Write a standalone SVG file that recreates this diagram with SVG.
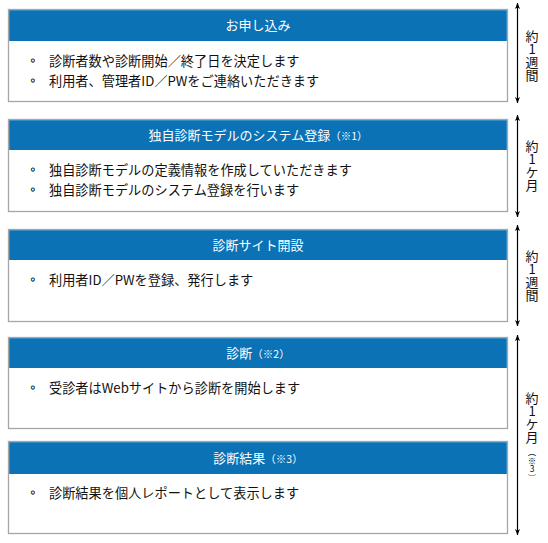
<svg xmlns="http://www.w3.org/2000/svg" width="548" height="543" viewBox="0 0 548 543">
<style>
.box{fill:#ffffff;stroke:#a6a6a6;stroke-width:1.3}
.hdr{fill:#0b72b5}
.ht{font-family:"Noto Sans CJK JP","Noto Sans",sans-serif;font-size:13px;fill:#ffffff;text-anchor:middle}
.sm{font-size:10.5px}
.bt{font-family:"Noto Sans CJK JP","Noto Sans",sans-serif;font-size:13.2px;fill:#111111}
.bl{font-family:"DejaVu Sans",sans-serif;font-size:12px;fill:#111111;stroke:#111111;stroke-width:0.35}
.vt{font-family:"Noto Sans CJK JP","Noto Sans",sans-serif;font-size:13px;fill:#111111;writing-mode:vertical-rl;text-orientation:upright}
.vs{font-family:"Noto Sans CJK JP","Noto Sans",sans-serif;font-size:8.5px;fill:#111111;writing-mode:vertical-rl;text-orientation:upright}
.ar{stroke:#000000;stroke-width:1.2;fill:none;marker-start:url(#ah);marker-end:url(#ah)}
</style>
<defs>
<marker id="ah" viewBox="0 0 10 8" refX="9.5" refY="4" markerWidth="6.5" markerHeight="5" markerUnits="userSpaceOnUse" orient="auto-start-reverse">
<path d="M0,0 L10,4 L0,8 L2.5,4 Z" fill="#000000"/>
</marker>
</defs>
<rect width="548" height="543" fill="#ffffff"/>

<g id="node1">
<rect class="box" x="8.5" y="9.5" width="499" height="92"/>
<rect class="hdr" x="9.2" y="10.2" width="497.6" height="30.8"/>
<text class="ht" x="258" y="30">お申し込み</text>
<text class="bl" x="29.5" y="65">◦</text>
<text class="bt" x="49" y="66">診断者数や診断開始／終了日を決定します</text>
<text class="bl" x="29.5" y="85">◦</text>
<text class="bt" x="49" y="86">利用者、管理者ID／PWをご連絡いただきます</text>
</g>

<g id="node2">
<rect class="box" x="8.5" y="119.5" width="499" height="92"/>
<rect class="hdr" x="9.2" y="120.2" width="497.6" height="29.8"/>
<text class="ht" x="258" y="139.5">独自診断モデルのシステム登録<tspan class="sm">（※1）</tspan></text>
<text class="bl" x="29.5" y="174">◦</text>
<text class="bt" x="49" y="175">独自診断モデルの定義情報を作成していただきます</text>
<text class="bl" x="29.5" y="194">◦</text>
<text class="bt" x="49" y="195">独自診断モデルのシステム登録を行います</text>
</g>

<g id="node3">
<rect class="box" x="8.5" y="229.5" width="499" height="92"/>
<rect class="hdr" x="9.2" y="230.2" width="497.6" height="29.8"/>
<text class="ht" x="258" y="249.5">診断サイト開設</text>
<text class="bl" x="29.5" y="284">◦</text>
<text class="bt" x="49" y="285">利用者ID／PWを登録、発行します</text>
</g>

<g id="node4">
<rect class="box" x="8.5" y="337.5" width="499" height="91"/>
<rect class="hdr" x="9.2" y="338.2" width="497.6" height="29.8"/>
<text class="ht" x="258" y="357.5">診断<tspan class="sm">（※2）</tspan></text>
<text class="bl" x="29.5" y="392">◦</text>
<text class="bt" x="49" y="393">受診者はWebサイトから診断を開始します</text>
</g>

<g id="node5">
<rect class="box" x="8.5" y="441.5" width="499" height="92"/>
<rect class="hdr" x="9.2" y="442.2" width="497.6" height="31.8"/>
<text class="ht" x="258" y="462.5">診断結果<tspan class="sm">（※3）</tspan></text>
<text class="bl" x="29.5" y="497">◦</text>
<text class="bt" x="49" y="498">診断結果を個人レポートとして表示します</text>
</g>

<g id="connectors">
<line class="ar" x1="517.5" y1="3" x2="517.5" y2="103"/>
<line class="ar" x1="517.5" y1="115" x2="517.5" y2="217"/>
<line class="ar" x1="517.5" y1="225" x2="517.5" y2="326"/>
<line class="ar" x1="517.5" y1="335" x2="517.5" y2="535"/>
</g>

<g id="labels">
<text class="vt" x="532" y="29.5">約1週間</text>
<text class="vt" x="532" y="139.5">約1ケ月</text>
<text class="vt" x="532" y="249.5">約1週間</text>
<text class="vt" x="532" y="391.5">約1ケ月</text>
<text class="vs" x="532" y="448">（※3）</text>
</g>
</svg>
